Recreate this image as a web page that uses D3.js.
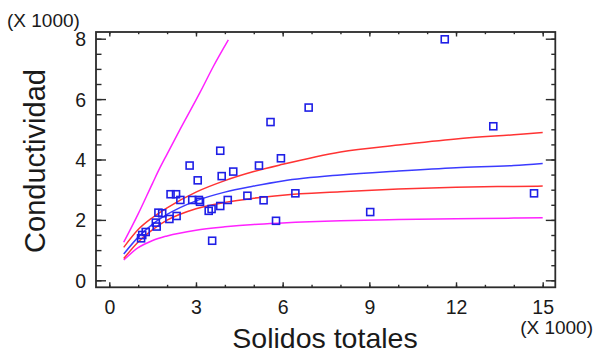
<!DOCTYPE html>
<html>
<head>
<meta charset="utf-8">
<script src="https://cdn.jsdelivr.net/npm/d3@7"></script>
<style>
  html, body { margin: 0; padding: 0; background: #fff; }
  svg { display: block; }
  text { font-family: "Liberation Sans", Arial, sans-serif; fill: #1a1a1a; }
</style>
</head>
<body>
<svg id="chart" width="596" height="356"></svg>
<script>
// Observed samples: solids (thousands) vs conductivity (thousands)
const solidos = [1.10, 1.14, 1.26, 1.61, 1.64, 1.70, 1.83, 2.08, 2.33, 2.12, 2.31, 2.46,
  2.78, 3.06, 2.87, 3.10, 3.14, 3.44, 3.54, 3.84, 3.56, 4.10, 3.84, 3.89, 4.29, 4.78,
  5.18, 5.34, 5.58, 5.77, 5.94, 6.44, 6.90, 9.03, 11.61, 13.29, 14.70];
const conductividad = [1.39, 1.50, 1.60, 1.91, 1.78, 2.24, 2.22, 2.03, 2.13, 2.85, 2.85, 2.66,
  3.80, 3.31, 2.66, 2.66, 2.60, 2.30, 2.36, 2.46, 1.31, 2.66, 4.29, 3.45, 3.60, 2.80,
  3.80, 2.65, 5.24, 1.97, 4.04, 2.88, 5.72, 2.26, 7.98, 5.10, 2.88];

// Fitted model and its limits, sampled along the solids axis
const curveX  = [0.5, 1, 1.5, 2, 3, 4, 5, 6, 8, 10, 12, 14, 15];
const ajuste  = [0.87, 1.43, 1.86, 2.18, 2.63, 2.92, 3.12, 3.29, 3.49, 3.62, 3.73, 3.80, 3.87];
const confSup = [1.09, 1.68, 2.08, 2.40, 2.92, 3.30, 3.60, 3.84, 4.25, 4.48, 4.68, 4.82, 4.89];
const confInf = [0.72, 1.27, 1.68, 1.99, 2.37, 2.58, 2.72, 2.82, 2.93, 3.02, 3.08, 3.11, 3.12];
const predInf = [0.67, 1.08, 1.32, 1.47, 1.66, 1.77, 1.85, 1.90, 1.97, 2.01, 2.04, 2.06, 2.07];
// upper prediction limit leaves the plot near the top of the axis
const predSupX = [0.5, 1, 1.5, 1.75, 2, 2.44, 3.14, 3.6, 4.12];
const predSup  = [1.26, 2.20, 3.22, 3.72, 4.18, 4.98, 6.22, 7.08, 7.96];

const xMajor = [0, 3, 6, 9, 12, 15];
const yMajor = [0, 2, 4, 6, 8];
const xMinor = d3.range(0, 15.01, 1);
const yMinor = d3.range(0, 8.01, 0.5);

const svg = d3.select("#chart");
const frame = { left: 96, right: 555.3, top: 32, bottom: 287.3 };

const x = d3.scaleLinear().domain([0, 15]).range([109.3, 542.7]);
const y = d3.scaleLinear().domain([0, 8]).range([280.3, 38.7]);

const ink = "#2b2b2b";

// ticks on all four sides, pointing into the plot
function tickAxis(axis, tx, ty, values, size) {
  const g = svg.append("g").attr("transform", `translate(${tx},${ty})`)
    .call(axis.tickValues(values).tickSize(size).tickFormat(""));
  g.select(".domain").remove();
  g.selectAll(".tick line").attr("stroke", ink).attr("stroke-width", 1.4);
  return g;
}
tickAxis(d3.axisRight(y), frame.left, 0, yMinor, 5.5);
tickAxis(d3.axisRight(y), frame.left, 0, yMajor, 10);
tickAxis(d3.axisLeft(y), frame.right, 0, yMinor, 4);
tickAxis(d3.axisLeft(y), frame.right, 0, yMajor, 9.5);
tickAxis(d3.axisTop(x), 0, frame.bottom, xMinor, 2.5);
tickAxis(d3.axisTop(x), 0, frame.bottom, xMajor, 5);
tickAxis(d3.axisBottom(x), 0, frame.top, xMinor, 2.2);
tickAxis(d3.axisBottom(x), 0, frame.top, xMajor, 4.5);

// plot frame
svg.append("rect")
  .attr("x", frame.left).attr("y", frame.top)
  .attr("width", frame.right - frame.left).attr("height", frame.bottom - frame.top)
  .attr("fill", "none").attr("stroke", ink).attr("stroke-width", 1.8);

// tick labels
const yLab = svg.append("g").attr("transform", `translate(${frame.left - 10},0)`)
  .call(d3.axisLeft(y).tickValues(yMajor).tickSize(0).tickPadding(0).tickFormat(d3.format("d")));
yLab.select(".domain").remove();
yLab.selectAll("text").style("font-size", "19.5px").attr("fill", "#1a1a1a")
  .attr("dy", "0.36em");

const xLab = svg.append("g").attr("transform", `translate(0,${frame.bottom + 13})`)
  .call(d3.axisBottom(x).tickValues(xMajor).tickSize(0).tickPadding(0).tickFormat(d3.format("d")));
xLab.select(".domain").remove();
xLab.selectAll("text").style("font-size", "19.5px").attr("fill", "#1a1a1a")
  .attr("dy", "0.72em");

// scale multipliers
svg.append("text").attr("x", 7).attr("y", 27)
  .style("font-size", "19px").text("(X 1000)");
svg.append("text").attr("x", 593).attr("y", 334).attr("text-anchor", "end")
  .style("font-size", "19px").text("(X 1000)");

// axis titles
svg.append("text").attr("x", 325).attr("y", 348).attr("text-anchor", "middle")
  .style("font-size", "28.5px").text("Solidos totales");
svg.append("text").attr("transform", "translate(45,161) rotate(-90)")
  .attr("text-anchor", "middle").style("font-size", "29px").text("Conductividad");

// model curves
const line = d3.line().x(d => x(d[0])).y(d => y(d[1])).curve(d3.curveMonotoneX);
const plot = svg.append("g");
function curve(xs, ys, color) {
  plot.append("path").datum(d3.zip(xs, ys))
    .attr("d", line).attr("fill", "none")
    .attr("stroke", color).attr("stroke-width", 1.5);
}
curve(curveX, predInf, "#ff22ff");
curve(predSupX, predSup, "#ff22ff");
curve(curveX, confInf, "#ff3333");
curve(curveX, confSup, "#ff3333");
curve(curveX, ajuste, "#3b3bff");

// observations as open squares
plot.selectAll("rect.obs").data(d3.zip(solidos, conductividad)).join("rect")
  .attr("class", "obs")
  .attr("x", d => x(d[0]) - 3.5).attr("y", d => y(d[1]) - 3.5)
  .attr("width", 7).attr("height", 7)
  .attr("fill", "none").attr("stroke", "#1f1fe6").attr("stroke-width", 1.6);
</script>
</body>
</html>
